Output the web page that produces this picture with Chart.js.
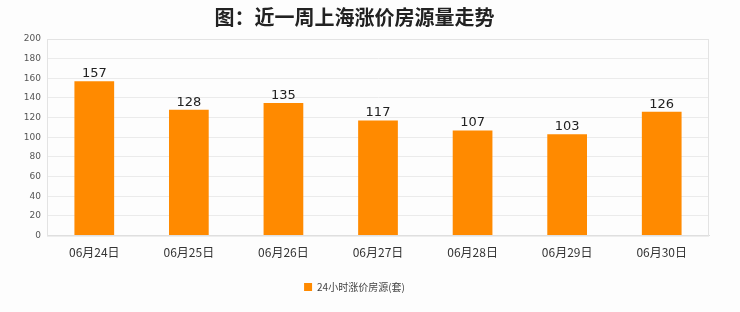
<!DOCTYPE html>
<html>
<head>
<meta charset="utf-8">
<script src="https://cdn.jsdelivr.net/npm/chart.js@4"></script>
<style>
  html, body { margin: 0; padding: 0; background: #fdfdfd; }
  #wrap { width: 740px; height: 312px; }
</style>
</head>
<body>
<div id="wrap"><canvas id="myChart" width="740" height="312"></canvas></div>
<script>
(() => {
  'use strict'

  const categories = ['06月24日', '06月25日', '06月26日', '06月27日', '06月28日', '06月29日', '06月30日'];
  const priceUpCount = [157, 128, 135, 117, 107, 103, 126];
  const yTicks = [0, 20, 40, 60, 80, 100, 120, 140, 160, 180, 200];

  const fontFamily = '"Noto Sans CJK SC", "DejaVu Sans", sans-serif';

  // draw the value above each bar
  const barLabels = {
    id: 'barLabels',
    afterDatasetsDraw(chart) {
      const ctx = chart.ctx;
      const meta = chart.getDatasetMeta(0);
      ctx.save();
      ctx.font = '13px "DejaVu Sans", sans-serif';
      ctx.fillStyle = '#222';
      ctx.textAlign = 'center';
      ctx.textBaseline = 'bottom';
      meta.data.forEach((bar, i) => {
        ctx.fillText(chart.data.datasets[0].data[i], bar.x, bar.y - 1);
      });
      ctx.restore();
    }
  };

  // plot area border
  const frame = {
    id: 'frame',
    beforeDatasetsDraw(chart) {
      const { ctx, chartArea: a } = chart;
      ctx.save();
      ctx.strokeStyle = '#e3e3e3';
      ctx.lineWidth = 1;
      ctx.strokeRect(a.left + 0.5, a.top + 0.5, a.right - a.left - 1, a.bottom - a.top);
      ctx.restore();
    }
  };

  const ctx = document.getElementById('myChart');
  new Chart(ctx, {
    type: 'bar',
    data: {
      labels: categories,
      datasets: [{
        label: '24小时涨价房源(套)',
        data: priceUpCount,
        backgroundColor: '#ff8a00',
        borderWidth: 0,
        barPercentage: 0.84,
        categoryPercentage: 0.5
      }]
    },
    options: {
      responsive: false,
      animation: false,
      layout: { padding: { left: 0, right: 31, top: 3, bottom: 10 } },
      scales: {
        x: {
          grid: { display: false },
          border: { color: '#dcdcdc' },
          ticks: { color: '#333', font: { family: fontFamily, size: 12 }, padding: 2 }
        },
        y: {
          min: 0,
          max: 200,
          afterFit(scale) { scale.width = 47; },
          afterBuildTicks(scale) { scale.ticks = yTicks.map(v => ({ value: v })); },
          grid: { color: '#ebebeb', drawTicks: false },
          border: { color: '#dcdcdc' },
          ticks: { color: '#555', font: { family: '"DejaVu Sans", sans-serif', size: 9 }, padding: 6 }
        }
      },
      plugins: {
        title: {
          display: true,
          text: '图：近一周上海涨价房源量走势',
          color: '#222',
          font: { family: fontFamily, size: 20, weight: 'bold' },
          padding: { top: 2, bottom: 10 }
        },
        legend: {
          position: 'bottom',
          labels: {
            color: '#444',
            boxWidth: 8,
            boxHeight: 8,
            font: { family: fontFamily, size: 10 },
            padding: 20
          }
        },
        tooltip: { enabled: false }
      }
    },
    plugins: [frame, barLabels]
  });
})();
</script>
</body>
</html>
